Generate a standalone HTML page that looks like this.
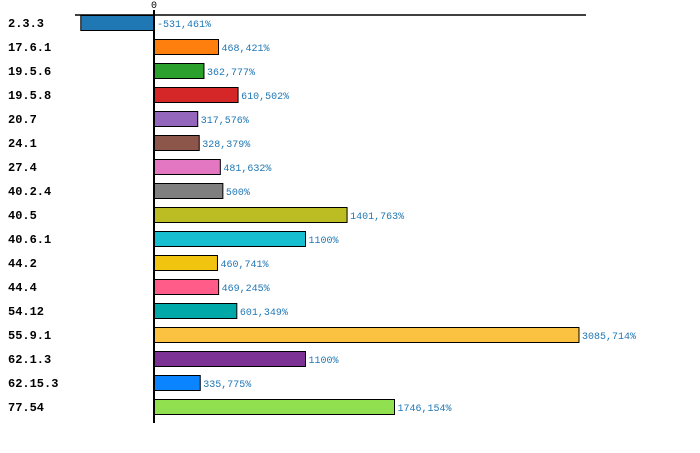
<!DOCTYPE html>
<html><head><meta charset="utf-8"><style>
body{margin:0;background:#fff}
svg{display:block}
.lab{font:bold 12px "Liberation Mono",monospace;fill:#000}
.val{font:10px "Liberation Mono",monospace;fill:#1f77b4}
</style></head><body>
<svg id="c" width="700" height="453"></svg>
<script>
const categories=["2.3.3","17.6.1","19.5.6","19.5.8","20.7","24.1","27.4","40.2.4","40.5","40.6.1","44.2","44.4","54.12","55.9.1","62.1.3","62.15.3","77.54"];
const values=[-531.461,468.421,362.777,610.502,317.576,328.379,481.632,500,1401.763,1100,460.741,469.245,601.349,3085.714,1100,335.775,1746.154];
const valueLabels=["-531,461%","468,421%","362,777%","610,502%","317,576%","328,379%","481,632%","500%","1401,763%","1100%","460,741%","469,245%","601,349%","3085,714%","1100%","335,775%","1746,154%"];
const colors=["#1f77b4","#ff7f0e","#2ca02c","#d62728","#9467bd","#8c564b","#e377c2","#7f7f7f","#bcbd22","#17becf","#f1c40f","#ff5c8a","#00a8a8","#fbc141","#7b3294","#0a84ff","#90e050"];
const NS="http://www.w3.org/2000/svg";
const svg=document.getElementById('c');
const x0=154,k=(579-154)/3085.714;
const x=v=>x0+v*k;
const y=i=>15+i*24;
function mk(t,a){const e=document.createElementNS(NS,t);for(const n in a)e.setAttribute(n,a[n]);svg.appendChild(e);return e;}
let ax=mk('line',{x1:75,x2:586,y1:15,y2:15,stroke:'#000','stroke-width':1.5});


let tk=mk('text',{x:x0,y:8,'text-anchor':'middle',style:'font:10px "Liberation Mono",monospace'});tk.textContent='0';


categories.forEach((c,i)=>{
  const v=values[i];
  const xa=Math.min(x(v),x0),w=Math.abs(x(v)-x0);
  const r=mk('rect',{x:xa,y:y(i)+0.5,width:w,height:15,fill:colors[i],stroke:'#000','stroke-width':1});
  
  
  const l=mk('text',{x:8,y:y(i)+12,class:'lab'});l.textContent=c;
  
  
  const t=mk('text',{x:(v<0?x0:x(v))+3,y:y(i)+12,class:'val'});t.textContent=valueLabels[i];
  
  
});
let zl=mk('line',{x1:x0,x2:x0,y1:10,y2:423,stroke:'#000','stroke-width':2});


</script>
</body></html>
